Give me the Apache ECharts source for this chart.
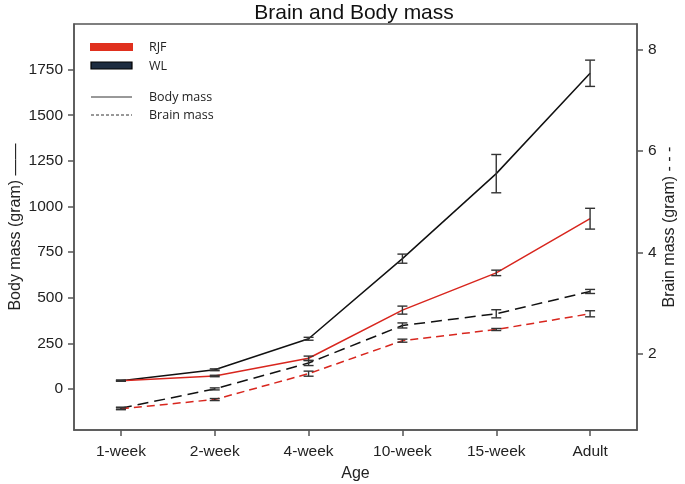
<!DOCTYPE html>
<html>
<head>
<meta charset="utf-8">
<script src="https://cdn.jsdelivr.net/npm/echarts@6/dist/echarts.min.js"></script>
<style>
  html, body { margin: 0; padding: 0; background: #fff; }
  #chart { width: 685px; height: 484px; }
</style>
</head>
<body>
<div id="chart"></div>
<script>
// categories
const ages = ['1-week', '2-week', '4-week', '10-week', '15-week', 'Adult']

// body mass (gram), left axis
const wlBody = [45, 105, 275, 714, 1180, 1730]
const wlBodyErr = [3, 5, 8, 25, 105, 72]
const rjfBody = [45, 71, 168, 432, 636, 933]
const rjfBodyErr = [3, 4, 12, 22, 15, 57]

// brain mass (gram), right axis
const wlBrain = [0.93, 1.31, 1.82, 2.56, 2.79, 3.23]
const wlBrainErr = [0.02, 0.02, 0.05, 0.05, 0.08, 0.04]
const rjfBrain = [0.92, 1.10, 1.61, 2.26, 2.48, 2.79]
const rjfBrainErr = [0.02, 0.02, 0.05, 0.03, 0.02, 0.06]

// tick labels
const bodyTicks = [0, 250, 500, 750, 1000, 1250, 1500, 1750]
const brainTicks = [2, 4, 6, 8]

const RED = '#d8261e'
const AXIS = '#555'
const FONT = 'Liberation Sans'

function errData(vals, errs) {
  return vals.map((v, i) => [i, v, errs[i]])
}

// error bar: vertical line + two caps
function errRender(params, api) {
  const i = api.value(0)
  const v = api.value(1)
  const e = api.value(2)
  const hi = api.coord([i, v + e])
  const lo = api.coord([i, v - e])
  const w = 5
  const style = { stroke: '#333', lineWidth: 1.4 }
  return {
    type: 'group',
    children: [
      { type: 'line', shape: { x1: hi[0], y1: hi[1], x2: lo[0], y2: lo[1] }, style },
      { type: 'line', shape: { x1: hi[0] - w, y1: hi[1], x2: hi[0] + w, y2: hi[1] }, style },
      { type: 'line', shape: { x1: lo[0] - w, y1: lo[1], x2: lo[0] + w, y2: lo[1] }, style }
    ]
  }
}

function lineSeries(name, data, yIdx, color, type) {
  return {
    name: name,
    type: 'line',
    yAxisIndex: yIdx,
    data: data,
    symbol: 'none',
    lineStyle: { color: color, width: 1.5, type: type },
    z: 2
  }
}

function errSeries(vals, errs, yIdx) {
  return {
    type: 'custom',
    yAxisIndex: yIdx,
    data: errData(vals, errs),
    encode: { x: 0, y: 1 },
    renderItem: errRender,
    z: 3
  }
}

const chart = echarts.init(document.getElementById('chart'))

const legendText = { fill: '#222', font: '12.5px "Open Sans"', textVerticalAlign: 'middle' }

chart.setOption({
  animation: false,
  title: {
    text: 'Brain and Body mass',
    left: 349,
    textAlign: 'center',
    top: -2,
    textStyle: { fontFamily: FONT, fontSize: 21, fontWeight: 'normal', color: '#111' }
  },
  grid: {
    left: 74, right: 48, top: 24, bottom: 54,
    outerBoundsMode: 'none',
    containLabel: false,
    show: true, borderColor: AXIS, borderWidth: 1.5
  },
  xAxis: {
    type: 'category',
    data: ages,
    boundaryGap: true,
    name: 'Age',
    nameLocation: 'middle',
    nameGap: 36,
    nameMoveOverlap: false,
    nameTextStyle: { fontFamily: FONT, fontSize: 16, color: '#222' },
    axisLine: { show: true, onZero: false, lineStyle: { color: AXIS, width: 1.5 } },
    axisTick: { show: true, alignWithLabel: true, length: 6, lineStyle: { color: AXIS, width: 1.5 } },
    axisLabel: { fontFamily: FONT, fontSize: 15.5, color: '#222', margin: 14 },
    splitLine: { show: false }
  },
  yAxis: [
    {
      type: 'value',
      min: -225,
      max: 2000,
      position: 'left',
      name: 'Body mass (gram) ——',
      nameLocation: 'middle',
      nameRotate: 90,
      nameGap: 50,
      nameMoveOverlap: false,
      nameTextStyle: { fontFamily: FONT, fontSize: 16, color: '#222' },
      axisLine: { show: true, onZero: false, lineStyle: { color: AXIS, width: 1.5 } },
      axisTick: { show: true, length: 6, customValues: bodyTicks, lineStyle: { color: AXIS, width: 1.5 } },
      axisLabel: {
        fontFamily: FONT, fontSize: 15.5, color: '#222', margin: 11,
        customValues: bodyTicks, formatter: v => String(v)
      },
      splitLine: { show: false }
    },
    {
      type: 'value',
      min: 0.5,
      max: 8.5,
      position: 'right',
      name: 'Brain mass (gram) - - -',
      nameLocation: 'middle',
      nameRotate: 90,
      nameGap: 25,
      nameMoveOverlap: false,
      nameTextStyle: { fontFamily: FONT, fontSize: 16, color: '#222' },
      axisLine: { show: true, onZero: false, lineStyle: { color: AXIS, width: 1.5 } },
      axisTick: { show: true, length: 6, customValues: brainTicks, lineStyle: { color: AXIS, width: 1.5 } },
      axisLabel: {
        fontFamily: FONT, fontSize: 15.5, color: '#222', margin: 11,
        customValues: brainTicks, formatter: v => String(v)
      },
      splitLine: { show: false }
    }
  ],
  graphic: [
    { type: 'rect', shape: { x: 90, y: 43, width: 43, height: 8 }, style: { fill: '#e0301e' } },
    { type: 'text', x: 149, y: 47, style: Object.assign({ text: 'RJF' }, legendText) },
    { type: 'rect', shape: { x: 91, y: 62, width: 41, height: 7 }, style: { fill: '#1d2c40', stroke: '#000', lineWidth: 1.2 } },
    { type: 'text', x: 149, y: 66, style: Object.assign({ text: 'WL' }, legendText) },
    { type: 'line', shape: { x1: 91, y1: 97, x2: 132, y2: 97 }, style: { stroke: '#333', lineWidth: 1 } },
    { type: 'text', x: 149, y: 97, style: Object.assign({ text: 'Body mass' }, legendText) },
    { type: 'line', shape: { x1: 91, y1: 115, x2: 132, y2: 115 }, style: { stroke: '#333', lineWidth: 1, lineDash: [3, 2] } },
    { type: 'text', x: 149, y: 115, style: Object.assign({ text: 'Brain mass' }, legendText) }
  ],
  series: [
    lineSeries('WL body', wlBody, 0, '#111', 'solid'),
    lineSeries('RJF body', rjfBody, 0, RED, 'solid'),
    lineSeries('WL brain', wlBrain, 1, '#111', [11, 6]),
    lineSeries('RJF brain', rjfBrain, 1, RED, [8, 5]),
    errSeries(wlBody, wlBodyErr, 0),
    errSeries(rjfBody, rjfBodyErr, 0),
    errSeries(wlBrain, wlBrainErr, 1),
    errSeries(rjfBrain, rjfBrainErr, 1)
  ]
})
</script>
</body>
</html>
